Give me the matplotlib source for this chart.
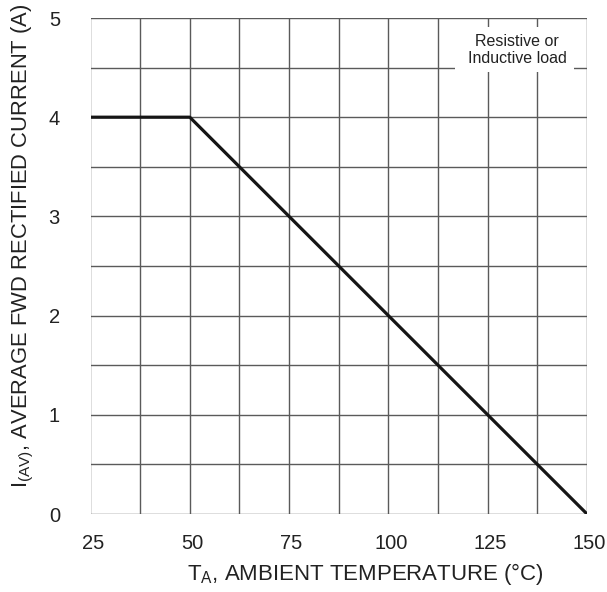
import matplotlib
matplotlib.use("Agg")
import matplotlib.pyplot as plt
from matplotlib.patches import Rectangle
from matplotlib.transforms import ScaledTranslation
import numpy as np

plt.rcParams['font.family'] = ['Liberation Sans', 'DejaVu Sans']
plt.rcParams['mathtext.fontset'] = 'custom'
plt.rcParams['mathtext.rm'] = 'Liberation Sans'
plt.rcParams['mathtext.it'] = 'Liberation Sans'
plt.rcParams['mathtext.default'] = 'regular'

temp = [25, 50, 150]
current = [4, 4, 0]
xticks = [25, 50, 75, 100, 125, 150]
yticks = [0, 1, 2, 3, 4, 5]

W, H = 607, 592
fig = plt.figure(figsize=(W / 100, H / 100), dpi=100)
left, right, top, bottom = 90.5, 587, 18, 514
ax = fig.add_axes([left / W, (H - bottom) / H, (right - left) / W, (bottom - top) / H])
ax.set_xlim(25, 150)
ax.set_ylim(0, 5)

gc = '#5a5a5a'
for x in np.arange(25, 150.1, 12.5):
    ax.axvline(x, color=gc, lw=1.0, zorder=1)
for y in np.arange(0, 5.01, 0.5):
    ax.axhline(y, color=gc, lw=1.0, zorder=1)

ax.plot(temp, current, color='#151515', lw=2.3, zorder=3, solid_capstyle='butt')

for s in ax.spines.values():
    s.set_visible(False)

ax.set_xticks(xticks)
ax.set_yticks(yticks)
ax.tick_params(length=0, labelsize=14.5, colors='#222222')
ax.tick_params(axis='x', pad=14.5)
ax.tick_params(axis='y', pad=22)
for lab in ax.get_xticklabels():
    lab.set_transform(lab.get_transform() + ScaledTranslation(2.5 / 100, 0, fig.dpi_scale_trans))

ax.set_xlabel(r'T$_{A}$, AMBIENT TEMPERATURE (°C)', fontsize=16, color='#222222', labelpad=6)
ax.xaxis.label.set_x((365 - left) / (right - left))
ax.set_ylabel(r'I$_{(AV)}$, AVERAGE FWD RECTIFIED CURRENT (A)', fontsize=15.8, color='#222222', labelpad=9)
ax.yaxis.label.set_y((bottom - 246) / (bottom - top))

ax.add_patch(Rectangle((116.7, 4.455), 30.0, 0.454, facecolor='white', edgecolor='none', zorder=2))
ax.text(132.4, 4.68, 'Resistive or\nInductive load', ha='center', va='center',
        fontsize=11.5, color='#222222', linespacing=1.15, zorder=4)

fig.savefig('out.png', dpi=100)
